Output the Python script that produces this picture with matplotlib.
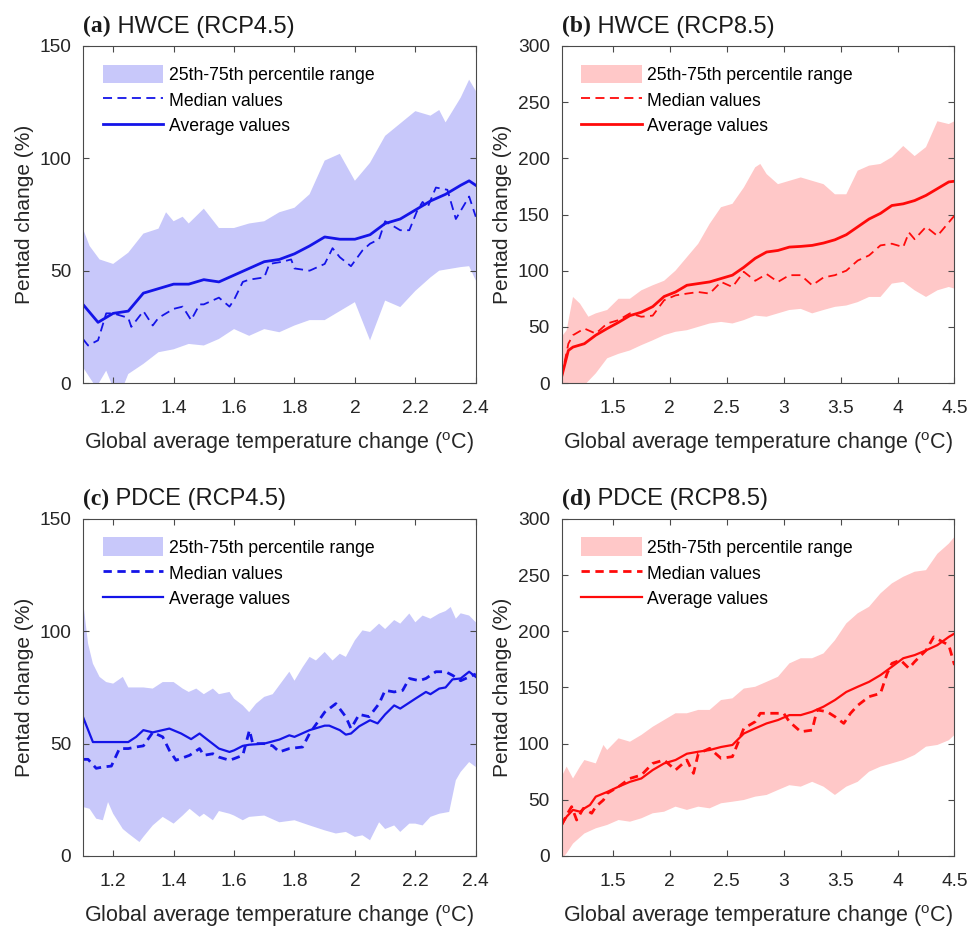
"""
Pentad change of HWCE / PDCE against global warming level, RCP4.5 and RCP8.5.
"""

import matplotlib

matplotlib.use("Agg")
import matplotlib.pyplot as plt
from matplotlib.ticker import FormatStrFormatter, FixedLocator

plt.rcParams.update(
    {
        "font.family": ["Liberation Sans", "DejaVu Sans"],
        "mathtext.fontset": "custom",
        "mathtext.rm": "Liberation Sans",
        "axes.edgecolor": "#4a4a4a",
        "xtick.color": "#4a4a4a",
        "ytick.color": "#4a4a4a",
        "xtick.labelcolor": "#262626",
        "ytick.labelcolor": "#262626",
    }
)

# ---- (a) HWCE, RCP4.5 ----
a_up_t = [1.10, 1.122, 1.155, 1.20, 1.25, 1.30, 1.35, 1.375, 1.40, 1.43, 1.45, 1.50, 1.55, 1.60, 1.65, 1.70,
          1.75, 1.80, 1.85, 1.90, 1.95, 2.00, 2.05, 2.10, 2.15, 2.20, 2.25, 2.279, 2.30, 2.35, 2.378, 2.40]
a_up = [68.7, 61, 55, 53, 58, 66.5, 68.7, 76, 72, 74, 71, 77.6, 69, 69, 71, 72,
        76, 78, 84, 99, 102, 90, 98, 110, 115.5, 121, 119, 121.5, 116, 127, 135, 130]
a_lo_t = [1.10, 1.122, 1.144, 1.177, 1.20, 1.232, 1.25, 1.30, 1.35, 1.40, 1.45, 1.50, 1.55, 1.60, 1.65, 1.70,
          1.75, 1.80, 1.85, 1.90, 1.95, 2.00, 2.05, 2.10, 2.15, 2.20, 2.25, 2.279, 2.35, 2.378, 2.40]
a_lo = [7, 2.5, -2, 5.5, -2, -2, 4, 8.5, 13.7, 15, 17.4, 16.7, 19.6, 24, 21, 24,
        22.6, 25.6, 28, 28, 32, 36, 19, 36.7, 33.8, 41, 47, 50, 51.6, 52, 45.6]
a_med_t = [1.10, 1.117, 1.15, 1.177, 1.20, 1.25, 1.26, 1.30, 1.331, 1.35, 1.40, 1.43, 1.458, 1.486, 1.50,
           1.55, 1.585, 1.60, 1.629, 1.65, 1.70, 1.717, 1.761, 1.789, 1.80, 1.85, 1.90, 1.926, 1.95, 1.987,
           2.025, 2.05, 2.08, 2.10, 2.15, 2.18, 2.207, 2.224, 2.24, 2.268, 2.306, 2.334, 2.378, 2.40]
a_med = [19.6, 16.7, 19, 31, 31, 29, 25, 32, 25.6, 29, 33, 34, 28, 35, 35,
         38, 34, 37, 45, 46, 47, 53, 54, 55, 51, 50, 53, 60, 56, 52,
         59, 62, 64, 72, 68, 68, 77, 80.6, 78, 87, 86, 73, 83, 74]
a_mean_t = [1.10, 1.15, 1.20, 1.25, 1.30, 1.35, 1.40, 1.45, 1.50, 1.55, 1.60, 1.65, 1.70, 1.75,
            1.80, 1.85, 1.90, 1.95, 2.00, 2.05, 2.10, 2.15, 2.20, 2.25, 2.30, 2.35, 2.378, 2.40]
a_mean = [35, 27, 31, 32, 40, 42, 44, 44, 46, 45, 48, 51, 54, 55,
          57.5, 61, 65, 64, 64, 66, 71, 73, 77, 81, 84, 88, 90, 88]

# ---- (b) HWCE, RCP8.5 ----
b_up_t = [1.05, 1.094, 1.15, 1.211, 1.285, 1.35, 1.45, 1.55, 1.65, 1.75, 1.85, 1.95, 2.05, 2.15, 2.25,
          2.35, 2.45, 2.55, 2.65, 2.75, 2.795, 2.85, 2.95, 3.05, 3.15, 3.25, 3.35, 3.45, 3.55, 3.65,
          3.75, 3.85, 3.95, 4.05, 4.15, 4.25, 4.35, 4.45, 4.5]
b_up = [41, 47, 76.6, 70.7, 59, 62, 65, 75, 75, 82.5, 87, 91, 100, 112, 124,
        141.7, 156.5, 159.5, 174, 192, 195, 186, 177, 180, 183, 180, 177, 168, 168, 189,
        193.5, 195, 201, 211, 202, 210, 233, 230.5, 233]
b_lo_t = [1.05, 1.15, 1.25, 1.35, 1.45, 1.55, 1.65, 1.75, 1.85, 1.95, 2.05, 2.15, 2.25, 2.35, 2.45, 2.55,
          2.65, 2.75, 2.85, 2.95, 3.05, 3.15, 3.25, 3.35, 3.45, 3.55, 3.65, 3.75, 3.85, 3.95, 4.05,
          4.15, 4.25, 4.35, 4.45, 4.5]
b_lo = [-3, -3, -2, 8.6, 22, 26, 29, 33.7, 38, 42.6, 45.6, 47, 50, 53, 54.4, 53,
        56, 60, 59, 62, 65, 66, 62, 65, 67.8, 69, 72, 76.6, 76.6, 88.5, 90,
        82.5, 76.6, 82.5, 85.5, 84]
b_med_t = [1.05, 1.109, 1.15, 1.25, 1.314, 1.35, 1.45, 1.55, 1.65, 1.75, 1.85, 1.95, 2.05, 2.15, 2.25,
           2.35, 2.45, 2.55, 2.65, 2.75, 2.85, 2.95, 3.05, 3.15, 3.25, 3.35, 3.45, 3.55, 3.65, 3.75,
           3.85, 3.95, 4.05, 4.1, 4.15, 4.25, 4.35, 4.45, 4.5]
b_med = [5.6, 35, 42.6, 48.5, 45.6, 44, 53, 56, 62, 59, 60, 73.7, 78, 79.6, 81,
         79.6, 90, 85.5, 99, 91, 97, 90, 96, 96, 87, 94, 96, 100, 109, 113.6,
         122.5, 124, 121, 134, 128, 139, 131, 143, 149]
b_mean_t = [1.05, 1.109, 1.15, 1.25, 1.35, 1.45, 1.55, 1.65, 1.75, 1.85, 1.95, 2.05, 2.15, 2.25, 2.35,
            2.45, 2.55, 2.65, 2.75, 2.85, 2.95, 3.05, 3.15, 3.25, 3.35, 3.45, 3.55, 3.65, 3.75, 3.85,
            3.95, 4.05, 4.15, 4.25, 4.35, 4.45, 4.5]
b_mean = [5.6, 29, 32, 35, 42.6, 48.5, 54, 60, 63, 68, 77, 81, 87, 88.5, 90,
          93, 96, 103, 111, 116.6, 118, 121, 121.6, 122.5, 124.6, 127.5, 132, 139, 146, 151,
          158, 159.5, 162.4, 167, 173, 179, 179.6]

# ---- (c) PDCE, RCP4.5 ----
c_up_t = [1.10, 1.117, 1.133, 1.155, 1.177, 1.20, 1.232, 1.25, 1.276, 1.30, 1.331, 1.364, 1.40, 1.43,
          1.45, 1.475, 1.50, 1.53, 1.55, 1.585, 1.60, 1.629, 1.65, 1.673, 1.70, 1.728, 1.75, 1.783,
          1.80, 1.827, 1.85, 1.871, 1.90, 1.926, 1.95, 1.97, 2.00, 2.025, 2.05, 2.08, 2.10, 2.13,
          2.15, 2.18, 2.20, 2.224, 2.25, 2.279, 2.30, 2.317, 2.334, 2.35, 2.378, 2.40]
c_up = [113.8, 94.5, 85.6, 79.7, 77.4, 76.7, 79.7, 75, 75, 75, 74.5, 77.4, 77.4, 74.5,
        73, 74.5, 72, 74.5, 72, 73, 70, 67, 64, 67.8, 70.8, 72, 76, 82,
        78, 84, 88.6, 87, 90.8, 87, 90, 88.6, 96, 100.4, 99.7, 103.4, 101, 105,
        103.4, 107.9, 104, 107, 105.6, 107.9, 109, 110.8, 105.6, 108, 107, 104]
c_lo_t = [1.10, 1.122, 1.144, 1.166, 1.183, 1.20, 1.232, 1.25, 1.287, 1.30, 1.331, 1.364, 1.40, 1.43,
          1.453, 1.486, 1.50, 1.53, 1.55, 1.585, 1.60, 1.629, 1.65, 1.70, 1.75, 1.80, 1.85, 1.90,
          1.937, 1.97, 2.00, 2.025, 2.05, 2.08, 2.10, 2.13, 2.15, 2.18, 2.20, 2.224, 2.25, 2.279,
          2.312, 2.334, 2.35, 2.378, 2.40]
c_lo = [21.8, 21, 16.6, 15.9, 24, 18.8, 12, 10, 6.2, 8.5, 13.6, 17.4, 14.4, 18,
        21, 17.4, 18.8, 15.9, 20, 18.8, 18, 15.9, 17.4, 18, 15, 15.9, 13.6, 11.4,
        10, 10.7, 8.5, 9.2, 7, 15, 12, 13.6, 10.7, 14.4, 14.4, 13.6, 17.4, 18.8,
        19.6, 33.7, 37.4, 41.8, 39.6]
c_med_t = [1.10, 1.117, 1.144, 1.166, 1.194, 1.221, 1.25, 1.276, 1.30, 1.331, 1.364, 1.386, 1.408, 1.453,
           1.486, 1.50, 1.53, 1.55, 1.585, 1.60, 1.629, 1.651, 1.662, 1.70, 1.728, 1.75, 1.783, 1.827,
           1.85, 1.90, 1.937, 1.97, 1.987, 2.014, 2.047, 2.08, 2.10, 2.13, 2.158, 2.18, 2.213, 2.235,
           2.268, 2.30, 2.323, 2.35, 2.40]
c_med = [43, 43, 39, 39.6, 40, 47.8, 47.8, 48.5, 49, 55, 53, 47, 42.6, 44.8,
         47.8, 44.8, 45.5, 44, 42.6, 43.3, 44.8, 56, 50, 50, 49, 46.3, 47.8, 48.5,
         54.5, 64, 67.8, 61.9, 56.7, 63, 62, 67.8, 73.7, 73, 73.7, 79, 78, 79,
         82, 82, 80.4, 78, 81]
c_mean_t = [1.10, 1.133, 1.20, 1.25, 1.276, 1.30, 1.331, 1.386, 1.425, 1.458, 1.486, 1.50, 1.55, 1.585,
            1.60, 1.629, 1.65, 1.70, 1.75, 1.783, 1.80, 1.85, 1.90, 1.915, 1.95, 1.97, 1.987, 2.014,
            2.05, 2.075, 2.10, 2.13, 2.15, 2.20, 2.235, 2.25, 2.279, 2.30, 2.323, 2.35, 2.378, 2.40]
c_mean = [61.9, 50.7, 50.7, 50.7, 53, 56, 55, 56.7, 54.5, 52, 54.5, 53, 47.8, 46.3,
          47, 49, 49.5, 50, 51.8, 53.7, 53, 56, 58, 58, 56, 54, 54.5, 57.7,
          60.4, 59, 63, 67, 65.6, 70, 73, 72, 74.5, 75, 78.6, 79, 82, 79.7]

# ---- (d) PDCE, RCP8.5 ----
d_up_t = [1.05, 1.094, 1.15, 1.211, 1.25, 1.35, 1.417, 1.45, 1.55, 1.65, 1.75, 1.85, 1.95, 2.05, 2.15,
          2.25, 2.35, 2.45, 2.55, 2.65, 2.75, 2.85, 2.95, 3.05, 3.15, 3.25, 3.35, 3.45, 3.55, 3.65,
          3.75, 3.85, 3.95, 4.05, 4.15, 4.25, 4.35, 4.45, 4.5]
d_up = [70.6, 79.5, 69, 79.5, 85.4, 82.4, 98.8, 94.3, 104.7, 101.7, 107.7, 115, 121, 127, 127,
        130, 130, 138.8, 140.3, 149, 150.6, 155, 159.5, 171.4, 176, 176, 180.3, 192, 207, 216,
        221.8, 233.7, 242.6, 248.5, 253, 254.4, 269, 278, 284]
d_lo_t = [1.05, 1.094, 1.15, 1.25, 1.35, 1.45, 1.55, 1.65, 1.75, 1.85, 1.95, 2.05, 2.15, 2.25, 2.35,
          2.45, 2.55, 2.65, 2.75, 2.85, 2.95, 3.05, 3.15, 3.25, 3.35, 3.45, 3.55, 3.65, 3.75, 3.85,
          3.95, 4.05, 4.15, 4.25, 4.35, 4.45, 4.5]
d_lo = [-3, 2.4, 11, 20, 24.6, 27.6, 32, 30.5, 33.5, 38, 39.4, 43.9, 41, 43.9, 42.4,
        46.9, 48.3, 49.8, 52.8, 54.3, 58.7, 63, 61.7, 66, 61.7, 54.3, 61.7, 66, 75, 79.5,
        82.4, 85.4, 89.9, 97.3, 98.8, 103, 107.7]
d_med_t = [1.05, 1.094, 1.138, 1.182, 1.241, 1.314, 1.35, 1.417, 1.45, 1.55, 1.65, 1.75, 1.85, 1.95,
           2.05, 2.15, 2.208, 2.25, 2.35, 2.45, 2.55, 2.65, 2.75, 2.795, 2.95, 3.0, 3.05, 3.15, 3.25,
           3.293, 3.381, 3.45, 3.528, 3.587, 3.65, 3.75, 3.85, 3.909, 3.95, 4.026, 4.1, 4.15, 4.25,
           4.318, 4.393, 4.45, 4.5]
d_med = [27.6, 36.5, 43.9, 32, 42.4, 38, 43.9, 49.8, 55.7, 61.7, 69, 72, 82.4, 85.4,
         76.5, 85.4, 73.5, 91, 95.8, 86.9, 88.4, 113.6, 119.5, 127, 127, 127, 119.5, 110.6, 112,
         130, 128.4, 124, 118, 127, 134, 141.8, 144.7, 162.5, 171.4, 174.4, 167, 172.9, 183,
         195, 190.7, 187.7, 170]
d_mean_t = [1.05, 1.094, 1.15, 1.211, 1.25, 1.299, 1.35, 1.45, 1.55, 1.65, 1.75, 1.85, 1.95, 2.05, 2.15,
            2.25, 2.35, 2.45, 2.55, 2.65, 2.75, 2.85, 2.95, 3.05, 3.15, 3.25, 3.35, 3.45, 3.55, 3.65,
            3.75, 3.85, 3.95, 4.05, 4.15, 4.25, 4.35, 4.45, 4.5]
d_mean = [27.6, 35, 41, 39.4, 42.4, 45.4, 52.8, 57, 61.7, 66, 69, 76.5, 82.4, 85.4, 91,
          92.8, 94.3, 97, 98.8, 109, 113.6, 118, 121, 125.4, 125.4, 128.4, 132.9, 138.8, 146, 150.6,
          155, 161, 168.4, 176, 178.8, 183, 187.7, 195, 198]

BLUE, BLUE_BAND = "#1414e8", "#c8c8fa"
RED, RED_BAND = "#ff0a0a", "#ffc8c8"

X_LABEL = "Global average temperature change ($^{\\mathrm{o}}$C)"
Y_LABEL = "Pentad change (%)"


def draw_panel(ax, tag, name, band, med, mean, color, band_color,
               xlim, xticks, ylim, yticks, med_lw, med_dash, mean_lw):
    up_t, up, lo_t, lo = band
    poly_x = list(up_t) + list(lo_t)[::-1]
    poly_y = list(up) + list(lo)[::-1]
    patch = ax.fill(poly_x, poly_y, color=band_color, lw=0,
                    label="25th-75th percentile range")[0]
    (l_med,) = ax.plot(med[0], med[1], color=color, lw=med_lw,
                       linestyle=(0, med_dash), label="Median values")
    (l_mean,) = ax.plot(mean[0], mean[1], color=color, lw=mean_lw,
                        label="Average values")

    ax.set_xlim(*xlim)
    ax.set_ylim(*ylim)
    ax.xaxis.set_major_locator(FixedLocator(xticks))
    ax.yaxis.set_major_locator(FixedLocator(yticks))
    ax.xaxis.set_major_formatter(FormatStrFormatter("%g"))
    ax.tick_params(direction="in", length=4, width=0.8, top=True, right=True,
                   labelsize=13.8)
    ax.tick_params(axis="x", pad=12)
    ax.tick_params(axis="y", pad=8.5)
    for s in ax.spines.values():
        s.set_linewidth(0.8)

    ax.set_xlabel(X_LABEL, fontsize=15.5, color="#262626", labelpad=10)
    ax.set_ylabel(Y_LABEL, fontsize=15, color="#262626", labelpad=4)

    ax.legend(handles=[patch, l_med, l_mean], loc="upper left",
              bbox_to_anchor=(0.05, 0.945), borderaxespad=0, borderpad=0,
              frameon=False, fontsize=12.7, handlelength=3.45,
              handleheight=1.25, handletextpad=0.3, labelspacing=0.37)

    t1 = ax.text(0.0, 1.04, tag, transform=ax.transAxes, fontsize=17,
                 fontweight="bold", family="Liberation Serif", va="baseline",
                 color="#1a1a1a")
    ax.annotate(" " + name, xy=(1, 0), xycoords=t1, va="bottom",
                fontsize=17, color="#1a1a1a")


def main():
    fig = plt.figure(figsize=(9.70, 9.31), dpi=100)
    w, h = 0.405, 0.362
    ax_a = fig.add_axes([0.0855, 0.5886, w, h])
    ax_b = fig.add_axes([0.579, 0.5886, w, h])
    ax_c = fig.add_axes([0.0855, 0.0806, w, h])
    ax_d = fig.add_axes([0.579, 0.0806, w, h])

    xt45 = [1.2, 1.4, 1.6, 1.8, 2.0, 2.2, 2.4]
    xt85 = [1.5, 2.0, 2.5, 3.0, 3.5, 4.0, 4.5]

    draw_panel(ax_a, "(a)", "HWCE (RCP4.5)", (a_up_t, a_up, a_lo_t, a_lo),
               (a_med_t, a_med), (a_mean_t, a_mean), BLUE, BLUE_BAND,
               (1.1, 2.4), xt45, (0, 150), [0, 50, 100, 150], 1.3, (5, 3), 2.0)
    draw_panel(ax_b, "(b)", "HWCE (RCP8.5)", (b_up_t, b_up, b_lo_t, b_lo),
               (b_med_t, b_med), (b_mean_t, b_mean), RED, RED_BAND,
               (1.05, 4.5), xt85, (0, 300), list(range(0, 301, 50)), 1.3, (5, 3), 2.0)
    draw_panel(ax_c, "(c)", "PDCE (RCP4.5)", (c_up_t, c_up, c_lo_t, c_lo),
               (c_med_t, c_med), (c_mean_t, c_mean), BLUE, BLUE_BAND,
               (1.1, 2.4), xt45, (0, 150), [0, 50, 100, 150], 2.0, (3, 2), 1.6)
    draw_panel(ax_d, "(d)", "PDCE (RCP8.5)", (d_up_t, d_up, d_lo_t, d_lo),
               (d_med_t, d_med), (d_mean_t, d_mean), RED, RED_BAND,
               (1.05, 4.5), xt85, (0, 300), list(range(0, 301, 50)), 2.0, (3, 2), 1.6)

    fig.savefig("out.png", dpi=100)


if __name__ == "__main__":
    main()
